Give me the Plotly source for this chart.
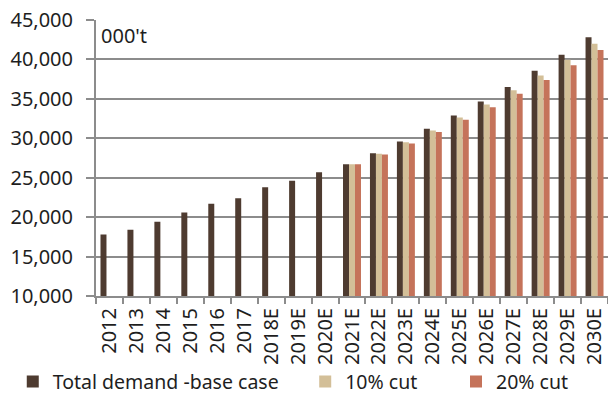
import plotly.graph_objects as go

years = ["2012", "2013", "2014", "2015", "2016", "2017", "2018E", "2019E", "2020E",
         "2021E", "2022E", "2023E", "2024E", "2025E", "2026E", "2027E", "2028E",
         "2029E", "2030E"]
base_case = [17800, 18400, 19400, 20600, 21700, 22400, 23800, 24600, 25700,
             26700, 28100, 29600, 31200, 32900, 34650, 36500, 38550, 40600, 42800]
cut_10 = [None] * 9 + [26700, 28050, 29500, 31000, 32650, 34300, 36100, 37950, 39950, 42000]
cut_20 = [None] * 9 + [26700, 27950, 29350, 30800, 32350, 33950, 35650, 37400, 39250, 41200]
names = ["Total demand -base case", "10% cut", "20% cut"]
colors = ["#4e3b30", "#d3bf98", "#c5735a"]

FONT = "Noto Sans"
TXT = "#1e1e1e"
GRID = "#8c8c8c"

fig = go.Figure()
for vals, name, col, lg in zip([base_case, cut_10, cut_20], names, colors,
                                ["legend", "legend2", "legend3"]):
    fig.add_trace(go.Bar(x=years, y=vals, name=name, marker_color=col,
                         marker_line_width=0, legend=lg, showlegend=True))

leg_common = dict(orientation="h", xref="container", yref="container",
                  yanchor="middle", y=0.064, xanchor="left",
                  font=dict(family=FONT, size=19.5, color=TXT),
                  bgcolor="rgba(0,0,0,0)", borderwidth=0)

fig.update_layout(
    width=608, height=408,
    showlegend=True,
    margin=dict(l=96, r=0, t=20, b=112, autoexpand=False),
    paper_bgcolor="white", plot_bgcolor="white",
    barmode="group", bargap=0.333, bargroupgap=0,
    font=dict(family=FONT, size=20, color=TXT),
    legend=dict(x=0.021, **leg_common),
    legend2=dict(x=0.502, **leg_common),
    legend3=dict(x=0.750, **leg_common),
    xaxis=dict(type="category", tickangle=-90, showline=True, linecolor=GRID,
               linewidth=2, ticks="outside", tickson="boundaries", ticklen=6,
               tickcolor=GRID, tickwidth=1.5, showgrid=False, automargin=False,
               ticklabelstandoff=2,
               tickfont=dict(family=FONT, size=20, color=TXT)),
    yaxis=dict(range=[10000, 45000], dtick=5000, tickformat=",", showline=True,
               linecolor=GRID, linewidth=2, ticks="outside", ticklen=8,
               tickcolor=GRID, tickwidth=1.5, showgrid=True, gridcolor=GRID,
               gridwidth=2, zeroline=False, automargin=False,
               ticklabelstandoff=9,
               tickfont=dict(family=FONT, size=20, color=TXT)),
    annotations=[dict(text="000't", xref="paper", yref="paper", x=0.006, y=0.945,
                      xanchor="left", yanchor="middle", showarrow=False,
                      font=dict(family=FONT, size=20, color=TXT))],
)

fig.write_html("out.html", config={"displayModeBar": False},
               post_script="document.body.style.margin='0';document.body.style.overflow='hidden';")
